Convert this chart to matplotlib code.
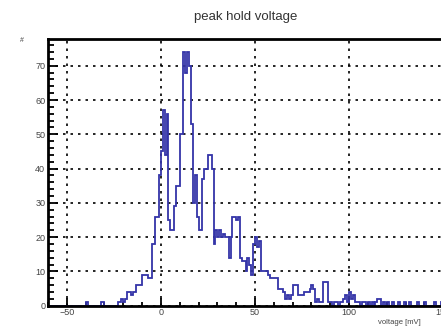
import numpy as np
import matplotlib
matplotlib.use("Agg")
import matplotlib.pyplot as plt
from matplotlib.ticker import MultipleLocator

plt.rcParams['font.family'] = ['Liberation Sans', 'DejaVu Sans']

# peak hold voltage histogram, 1 mV bins from -60 to 160 mV
bin_start = -60
bin_width = 1
counts = [
    0, 0, 0, 0, 0, 0, 0, 0, 0, 0,          # -60
    0, 0, 0, 0, 0, 0, 0, 0, 0, 0,          # -50
    1, 0, 0, 0, 0, 0, 0, 0, 1, 1,          # -40
    0, 0, 0, 0, 0, 0, 0, 1, 1, 2,          # -30
    1, 2, 4, 4, 3, 4, 4, 6, 6, 6,          # -20
    9, 9, 9, 8, 8, 18, 18, 26, 26, 38,     # -10
    45, 57, 44, 56, 25, 22, 22, 29, 35, 35,  # 0
    50, 50, 74, 68, 74, 70, 53, 30, 38, 26,  # 10
    22, 22, 37, 40, 40, 44, 44, 40, 18, 22,  # 20
    20, 22, 20, 21, 20, 20, 14, 20, 26, 26,  # 30
    25, 26, 14, 13, 13, 10, 14, 12, 9, 18,   # 40
    20, 17, 19, 10, 10, 10, 10, 9, 8, 8,     # 50
    8, 8, 5, 5, 5, 4, 2, 3, 2, 3,            # 60
    6, 6, 6, 3, 3, 3, 4, 4, 4, 5,            # 70
    6, 5, 1, 2, 1, 1, 7, 7, 7, 1,            # 80
    1, 0, 1, 1, 0, 1, 1, 2, 3, 1,            # 90
    4, 2, 3, 1, 1, 1, 0, 1, 1, 0,            # 100
    1, 0, 1, 0, 1, 2, 2, 0, 1, 0,            # 110
    1, 0, 0, 1, 0, 0, 1, 0, 0, 1,            # 120
    0, 0, 1, 0, 0, 0, 1, 0, 0, 0,            # 130
    1, 0, 0, 0, 0, 1, 0, 0, 0, 1,            # 140
    0, 0, 0, 1, 0, 0, 0, 0, 0, 0,            # 150
]
edges = bin_start + bin_width * np.arange(len(counts) + 1)

fig = plt.figure(figsize=(4.41, 3.29), dpi=100)
ax = fig.add_axes([48 / 441, 23.3 / 329, 414 / 441, 266.7 / 329])

ax.stairs(counts, edges, color='#3434a8', lw=1.3, baseline=0)

ax.set_xlim(-60, 160)
ax.set_ylim(0, 77.8)

ax.xaxis.set_major_locator(MultipleLocator(50))
ax.xaxis.set_minor_locator(MultipleLocator(10))
ax.yaxis.set_major_locator(MultipleLocator(10))
ax.yaxis.set_minor_locator(MultipleLocator(2))

ax.grid(True, which='major', color='black', linestyle=(0, (1.5, 3)), lw=1.2)
ax.set_axisbelow(True)

for side in ['left', 'bottom', 'top']:
    ax.spines[side].set_linewidth(2.0)
ax.spines['right'].set_visible(False)

ax.tick_params(axis='both', which='both', direction='in', width=1.3,
               labelsize=6.5, labelcolor='#444444', pad=2)
ax.tick_params(axis='x', which='major', length=6)
ax.tick_params(axis='x', which='minor', length=3)
ax.tick_params(axis='y', which='major', length=7)
ax.tick_params(axis='y', which='minor', length=4)

fig.text(246 / 441, 1 - 17 / 329, "peak hold voltage", ha='center', va='center',
         fontsize=9.5, color='#333333')
fig.text(24 / 441, 1 - 40 / 329, "#", ha='right', va='center', fontsize=5, color='#444444')
fig.text(378 / 441, 1 - 322 / 329, "voltage [mV]", ha='left', va='center',
         fontsize=5.5, color='#444444')

fig.savefig("out.png", dpi=100)
